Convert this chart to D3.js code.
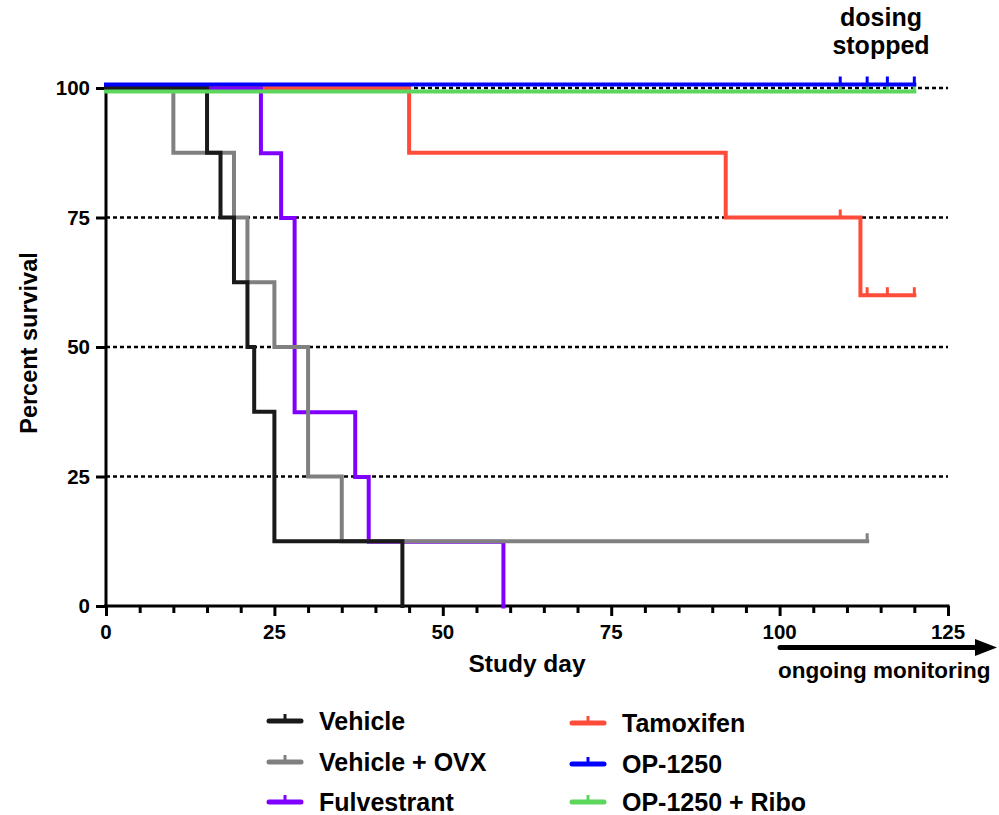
<!DOCTYPE html>
<html><head><meta charset="utf-8">
<script src="https://cdn.jsdelivr.net/npm/d3@7"></script>
<style>
body{margin:0;background:#fff;}
text{font-family:"Liberation Sans",Arial,Helvetica,sans-serif;font-weight:bold;fill:#000;}
</style></head><body>
<svg id="chart" width="999" height="815"></svg>
<script>
// ---- data ----
const seriesNames = ["Vehicle","Vehicle + OVX","Fulvestrant","Tamoxifen","OP-1250","OP-1250 + Ribo"];
const vehicleDays = [0,15,17,19,21,22,25,44];
const vehicleSurv = [100,87.5,75,62.5,50,37.5,12.5,0];
const vehicleEnd = 44;
const vehicleCensor = [];
const ovxDays = [0,10,19,21,25,30,35];
const ovxSurv = [100,87.5,75,62.5,50,25,12.5];
const ovxEnd = 113;
const ovxCensor = [113];
const fulvDays = [0,23,26,28,37,39,59];
const fulvSurv = [100,87.5,75,37.5,25,12.5,0];
const fulvEnd = 59;
const fulvCensor = [];
const tamDays = [0,45,92,112];
const tamSurv = [100,87.5,75,60];
const tamEnd = 120;
const tamCensor = [109,113,116,120];
const opDays = [0];
const opSurv = [100];
const opEnd = 120;
const opCensor = [109,113,116,120];
const riboDays = [0];
const riboSurv = [100];
const riboEnd = 120;
const riboCensor = [109,113,116,120];
const xTicks = [0,25,50,75,100,125];
const yTicks = [0,25,50,75,100];

// ---- styles ----
const colors = {"Vehicle":"#1a1a1a","Vehicle + OVX":"#808080","Fulvestrant":"#8000ff","Tamoxifen":"#ff4b3a","OP-1250":"#0000ff","OP-1250 + Ribo":"#5cd65c"};
const offsets = {"Vehicle":0,"Vehicle + OVX":0,"Fulvestrant":0.5,"Tamoxifen":0,"OP-1250":-3.5,"OP-1250 + Ribo":3.5};

const series = [
  {name:"Tamoxifen",days:tamDays,surv:tamSurv,end:tamEnd,censor:tamCensor},
  {name:"Fulvestrant",days:fulvDays,surv:fulvSurv,end:fulvEnd,censor:fulvCensor},
  {name:"Vehicle + OVX",days:ovxDays,surv:ovxSurv,end:ovxEnd,censor:ovxCensor},
  {name:"Vehicle",days:vehicleDays,surv:vehicleSurv,end:vehicleEnd,censor:vehicleCensor},
  {name:"OP-1250 + Ribo",days:riboDays,surv:riboSurv,end:riboEnd,censor:riboCensor},
  {name:"OP-1250",days:opDays,surv:opSurv,end:opEnd,censor:opCensor}
];

const svg = d3.select("#chart");
const x = d3.scaleLinear().domain([0,125]).range([106,948]);
const y = d3.scaleLinear().domain([0,100]).range([606,88]);

// grid lines
svg.append("g").selectAll("line").data(yTicks.filter(d=>d>0)).join("line")
  .attr("x1",x(0)).attr("x2",x(125)).attr("y1",d=>y(d)).attr("y2",d=>y(d))
  .attr("stroke","#000").attr("stroke-width",2.5).attr("stroke-dasharray","4,3");

// axes
const xAxis = svg.append("g").attr("transform",`translate(0,${y(0)})`)
  .call(d3.axisBottom(x).tickValues(d3.range(0,126,5)).tickSize(7).tickFormat(""));
xAxis.select(".domain").remove();
xAxis.selectAll(".tick line").attr("stroke","#000").attr("stroke-width",3)
  .attr("y2",d=>xTicks.includes(d)?10:7);
svg.append("g").selectAll("text").data(xTicks).join("text")
  .attr("x",d=>x(d)).attr("y",639).attr("text-anchor","middle")
  .style("font-size","20.5px").text(d=>d);
svg.append("line").attr("x1",x(0)-2).attr("x2",x(125)+1.5).attr("y1",y(0)).attr("y2",y(0))
  .attr("stroke","#000").attr("stroke-width",3);

const yAxis = svg.append("g").attr("transform",`translate(${x(0)},0)`)
  .call(d3.axisLeft(y).tickValues(yTicks).tickSize(10).tickFormat(""));
yAxis.select(".domain").remove();
yAxis.selectAll(".tick line").attr("stroke","#000").attr("stroke-width",3);
svg.append("g").selectAll("text").data(yTicks).join("text")
  .attr("x",90).attr("y",d=>y(d)+7).attr("text-anchor","end")
  .style("font-size","20.5px").text(d=>d);
svg.append("line").attr("x1",x(0)).attr("x2",x(0)).attr("y1",y(100)).attr("y2",y(0)+1.5)
  .attr("stroke","#000").attr("stroke-width",3);

// series
const line = d3.line().x(d=>d[0]).y(d=>d[1]).curve(d3.curveStepAfter);
series.forEach(s=>{
  const off = offsets[s.name];
  const pts = s.days.map((d,i)=>[x(d), y(s.surv[i])+off]);
  const last = s.surv[s.surv.length-1];
  if (s.end > s.days[s.days.length-1]) pts.push([x(s.end), y(last)+off]);
  svg.append("path").attr("d",line(pts)).attr("fill","none")
    .attr("stroke",colors[s.name]).attr("stroke-width",4)
    .attr("stroke-linejoin","miter").attr("stroke-linecap","square");
  const survAt = t => { let v=s.surv[0]; s.days.forEach((d,i)=>{ if(d<=t) v=s.surv[i]; }); return v; };
  svg.append("g").selectAll("line").data(s.censor).join("line")
    .attr("x1",d=>x(d)).attr("x2",d=>x(d))
    .attr("y1",d=>y(survAt(d))+off).attr("y2",d=>y(survAt(d))+off-8)
    .attr("stroke",colors[s.name]).attr("stroke-width",3);
});

// annotations
svg.append("text").attr("x",881).attr("y",26).attr("text-anchor","middle").style("font-size","25px").text("dosing");
svg.append("text").attr("x",881).attr("y",54).attr("text-anchor","middle").style("font-size","25px").text("stopped");
svg.append("line").attr("x1",780).attr("x2",977).attr("y1",647.5).attr("y2",647.5)
  .attr("stroke","#000").attr("stroke-width",5).attr("stroke-linecap","round");
svg.append("path").attr("d","M975,639 L997,647.5 L975,656 Z").attr("fill","#000");
svg.append("text").attr("x",778).attr("y",678).style("font-size","22.5px").text("ongoing monitoring");

// axis titles
svg.append("text").attr("x",527).attr("y",672).attr("text-anchor","middle").style("font-size","24.5px").text("Study day");
svg.append("text").attr("transform","translate(37,343) rotate(-90)").attr("text-anchor","middle").style("font-size","23.5px").text("Percent survival");

// legend
const legendPos = {
  "Vehicle":[267,721],"Vehicle + OVX":[267,762],"Fulvestrant":[267,802],
  "Tamoxifen":[570,723],"OP-1250":[570,764],"OP-1250 + Ribo":[570,802]
};
seriesNames.forEach(n=>{
  const [lx,ly] = legendPos[n];
  const g = svg.append("g");
  g.append("line").attr("x1",lx+2).attr("x2",lx+34).attr("y1",ly).attr("y2",ly)
    .attr("stroke",colors[n]).attr("stroke-width",5).attr("stroke-linecap","round");
  g.append("line").attr("x1",lx+18).attr("x2",lx+18).attr("y1",ly).attr("y2",ly-7)
    .attr("stroke",colors[n]).attr("stroke-width",3);
  g.append("text").attr("x",lx+52).attr("y",ly+8.5).style("font-size","25px").text(n);
});
</script>
</body></html>
